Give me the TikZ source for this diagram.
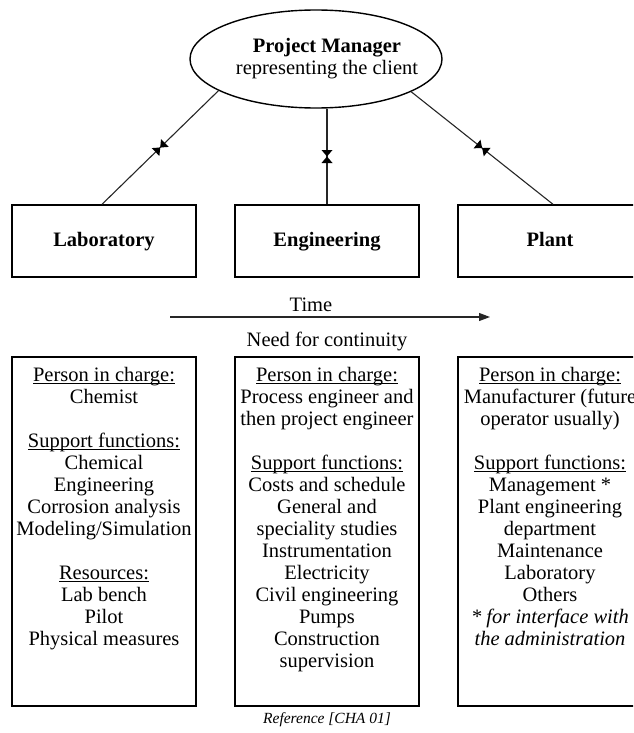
\documentclass[tikz,border=0pt]{standalone}
\usepackage{fontspec}
\setmainfont{Liberation Serif}
\usetikzlibrary{shapes.geometric,arrows.meta,decorations.markings}
\newcommand\myul[1]{\sbox0{#1}\rlap{\rule[-2.6pt]{\wd0}{0.9pt}}\usebox0}
\begin{document}
\begin{tikzpicture}[x=1pt,y=-1pt,
  every node/.style={font=\fontsize{20.5}{22}\selectfont, inner sep=0pt},
  topbox/.style={draw, line width=1.4pt, minimum width=184pt, minimum height=72pt, text height=14pt, text depth=4pt, font=\fontsize{20.5}{22}\selectfont\bfseries},
  lowbox/.style={draw, line width=1.4pt, minimum width=184pt, minimum height=349pt},
  lowtxt/.style={anchor=north, align=center},
  link/.style={line width=1.1pt, draw=black!85},
  hg/.style={postaction=decorate, decoration={markings, mark=at position 0.5 with {\fill[black] (-6.5pt,-5.5pt) -- (-6.5pt,5.5pt) -- (6.5pt,-5.5pt) -- (6.5pt,5.5pt) -- cycle;}}}
]
\useasboundingbox (0,0) rectangle (633,733);
\clip (0,0) rectangle (633,733);

\node[ellipse, draw, line width=1.4pt, minimum width=252pt, minimum height=98pt] (pm) at (316,59) {};
\node[align=center] (pmtxt) at (327,59) {\textbf{Project Manager}\\representing the client};

\node[topbox] (lab) at (104,241) {Laboratory};
\node[topbox] (eng) at (327,241) {Engineering};
\node[topbox] (plant) at (550,241) {Plant};

\draw[link,hg] ([xshift=-2pt]lab.north) -- (pm.198.8);
\draw[link,hg] (eng.north) -- (eng.north |- pm.south);
\draw[link,hg] ([xshift=3pt]plant.north) -- (pm.341.2);

\coordinate (t0) at (170,317);
\coordinate (t1) at (490,317);
\draw[link, -{Triangle[length=11pt,width=8pt]}] (t0) -- (t1);
\node (time) at (311,305) {Time};
\node (need) at (327,341) {Need for continuity};

\node[lowbox] (labres) at (104,531.5) {};
\node[lowbox] (engres) at (327,531.5) {};
\node[lowbox] (plantres) at (550,531.5) {};

\node[lowtxt] (labtxt) at (104,367) {\myul{Person in charge:}\\Chemist\\[22pt]
\myul{Support functions:}\\Chemical\\Engineering\\Corrosion analysis\\Modeling/Simulation\\[22pt]
\myul{Resources:}\\Lab bench\\Pilot\\Physical measures};

\node[lowtxt] (engtxt) at (327,367) {\myul{Person in charge:}\\Process engineer and\\then project engineer\\[22pt]
\myul{Support functions:}\\Costs and schedule\\General and\\speciality studies\\Instrumentation\\Electricity\\Civil engineering\\Pumps\\Construction\\supervision};

\node[lowtxt] (planttxt) at (550,367) {\myul{Person in charge:}\\Manufacturer (future\\operator usually)\\[22pt]
\myul{Support functions:}\\Management *\\Plant engineering\\department\\Maintenance\\Laboratory\\Others\\\textit{* for interface with}\\\textit{the administration}};

\node[font=\fontsize{15.5}{18}\selectfont\itshape] (ref) at (327,720) {Reference [CHA 01]};
\end{tikzpicture}
\end{document}
